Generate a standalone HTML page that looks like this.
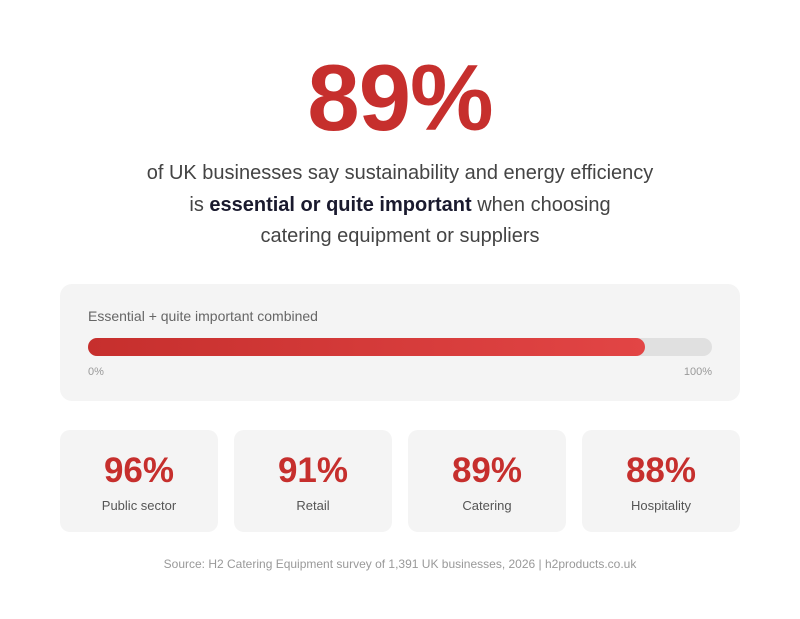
<!DOCTYPE html>
<html><head><style>
body{margin:0;width:800px;height:619px;background:#fff;font-family:"Liberation Sans",sans-serif;position:relative;overflow:hidden}
.a{position:absolute}
.big{left:0;width:800px;top:43px;text-align:center;font-size:94px;font-weight:bold;color:#c62f2d;line-height:110px;letter-spacing:-1px}
.sub{left:0;width:800px;top:158px;text-align:center;font-size:20px;color:#444;line-height:31.5px}
.sub b{color:#1a1a2e}
.card{left:60px;top:284px;width:680px;height:117px;background:#f4f4f4;border-radius:12px}
.card .lbl{left:28px;top:24px;font-size:14px;color:#666}
.track{left:28px;top:54px;width:624px;height:18px;background:#e0e0e0;border-radius:9px}
.fill{left:0;top:0;width:557px;height:18px;border-radius:9px;background:linear-gradient(90deg,#c62f2d,#e24545)}
.tk{top:82px;font-size:11px;color:#999}
.s{top:430px;width:158px;height:102px;background:#f4f4f4;border-radius:10px;text-align:center}
.s .n{position:absolute;left:0;width:158px;top:21px;font-size:35px;font-weight:bold;color:#c62f2d;line-height:40px}
.s .l{position:absolute;left:0;width:158px;top:68px;font-size:13px;color:#555}
.src{left:0;width:800px;top:557px;text-align:center;font-size:12px;color:#999}
</style></head><body>
<div class="a big">89%</div>
<div class="a sub">of UK businesses say sustainability and energy efficiency<br>is <b>essential or quite important</b> when choosing<br>catering equipment or suppliers</div>
<div class="a card">
<div class="a lbl">Essential + quite important combined</div>
<div class="a track"><div class="a fill"></div></div>
<div class="a tk" style="left:28px">0%</div>
<div class="a tk" style="right:28px">100%</div>
</div>
<div class="a s" style="left:60px"><div class="n">96%</div><div class="l">Public sector</div></div>
<div class="a s" style="left:234px"><div class="n">91%</div><div class="l">Retail</div></div>
<div class="a s" style="left:408px"><div class="n">89%</div><div class="l">Catering</div></div>
<div class="a s" style="left:582px"><div class="n">88%</div><div class="l">Hospitality</div></div>
<div class="a src">Source: H2 Catering Equipment survey of 1,391 UK businesses, 2026 | h2products.co.uk</div>
</body></html>
